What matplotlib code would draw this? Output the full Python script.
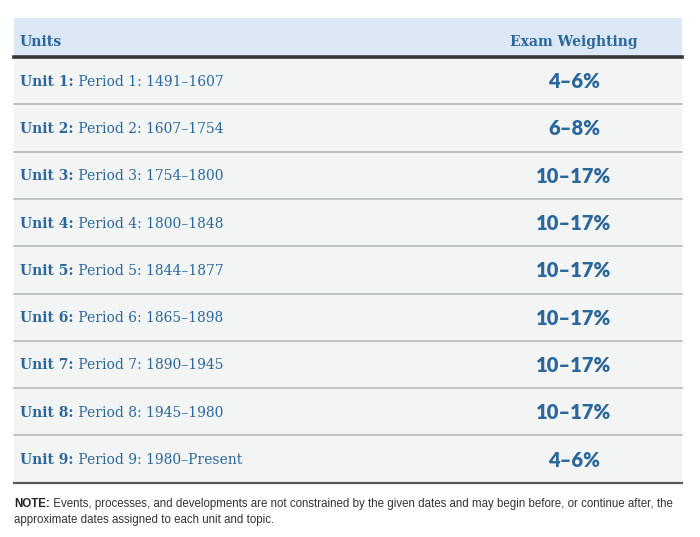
import matplotlib.pyplot as plt

units = ["Unit 1:", "Unit 2:", "Unit 3:", "Unit 4:", "Unit 5:",
         "Unit 6:", "Unit 7:", "Unit 8:", "Unit 9:"]
periods = ["Period 1: 1491\u20131607", "Period 2: 1607\u20131754",
           "Period 3: 1754\u20131800", "Period 4: 1800\u20131848",
           "Period 5: 1844\u20131877", "Period 6: 1865\u20131898",
           "Period 7: 1890\u20131945", "Period 8: 1945\u20131980",
           "Period 9: 1980\u2013Present"]
weights = ["4\u20136%", "6\u20138%", "10\u201317%", "10\u201317%", "10\u201317%",
           "10\u201317%", "10\u201317%", "10\u201317%", "4\u20136%"]
headers = ["Units", "Exam Weighting"]
note_head = "NOTE:"
note_lines = ["Events, processes, and developments are not constrained by the given dates "
              "and may begin before, or continue after, the",
              "approximate dates assigned to each unit and topic."]

blue = "#2b679b"
W, H = 700, 537
fig = plt.figure(figsize=(7, 5.37), dpi=100)
ax = fig.add_axes([0, 0, 1, 1])
ax.set_xlim(0, W)
ax.set_ylim(H, 0)
ax.axis("off")

x0, x1 = 14, 682
head_top, head_bot = 18, 57
row_h = 47.3
ncol2 = 574

# header
ax.fill_between([x0, x1], head_top, head_bot, color="#dce8f5", lw=0)
ax.text(20, 42, headers[0], color=blue, fontsize=10.2, fontweight="bold",
        family="DejaVu Serif", va="center")
ax.text(ncol2, 42, headers[1], color=blue, fontsize=10, fontweight="bold",
        family="DejaVu Serif", va="center", ha="center")

# rows
for i, (u, p, w) in enumerate(zip(units, periods, weights)):
    top = head_bot + i * row_h
    bot = top + row_h
    ax.fill_between([x0, x1], top, bot, color="#f3f4f4", lw=0)
    yc = top + row_h / 2 + 1
    t = ax.text(20, yc, u, color=blue, fontsize=10, fontweight="bold",
                family="DejaVu Serif", va="center")
    ax.annotate(" " + p, xycoords=t, xy=(1, 0.5), va="center", color=blue,
                fontsize=10, family="DejaVu Serif")
    ax.text(ncol2, yc, w, color=blue, fontsize=14.5, fontweight="heavy",
            family="Lato", va="center", ha="center")
    if i < len(units) - 1:
        ax.plot([x0, x1], [bot, bot], color="#b4b4b4", lw=1.1)

ax.plot([x0, x1], [head_bot, head_bot], color="#383838", lw=2.6)
end = head_bot + len(units) * row_h
ax.plot([x0, x1], [end, end], color="#5a5a5a", lw=1.6)

# note
t = ax.text(14, 504, note_head, fontsize=8.3, fontweight="bold", color="#222222",
            family="Liberation Sans", va="center")
ax.annotate(" " + note_lines[0], xycoords=t, xy=(1, 0.5), va="center",
            fontsize=8.3, color="#333333", family="Liberation Sans")
ax.text(14, 520, note_lines[1], fontsize=8.3, color="#333333",
        family="Liberation Sans", va="center")

fig.savefig("out.png", dpi=100, facecolor="white")
